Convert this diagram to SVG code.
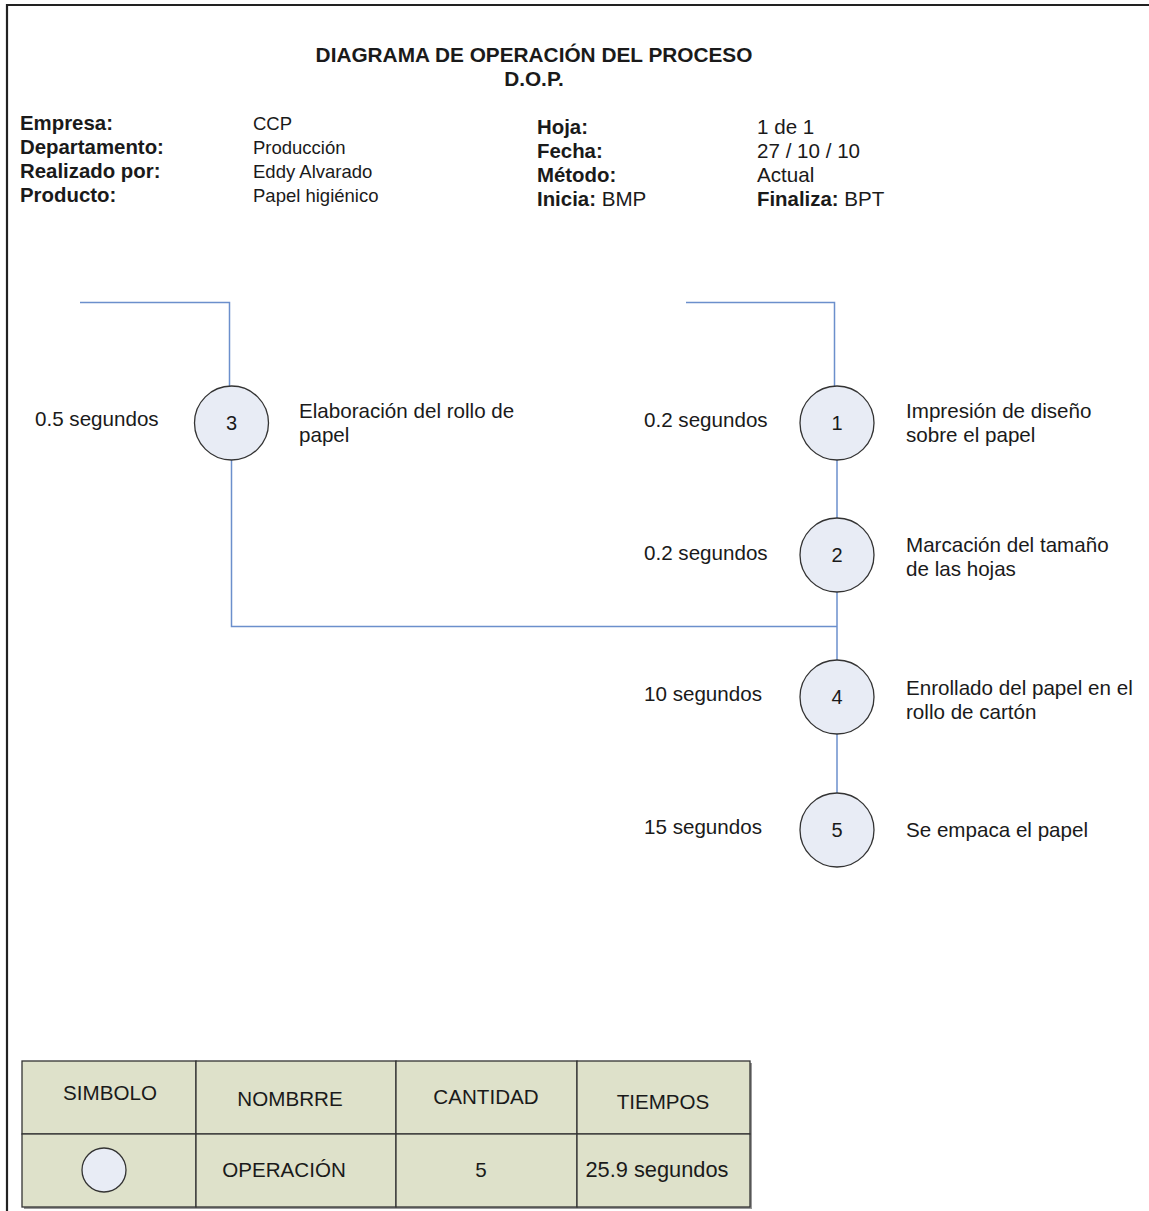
<svg xmlns="http://www.w3.org/2000/svg" width="1149" height="1211" viewBox="0 0 1149 1211">
<style>
text{font-family:"Liberation Sans",Arial,sans-serif;fill:#1a1a1a;font-size:20.6px}
.b{font-weight:bold;font-size:20.4px}
.t{font-weight:bold;font-size:20.8px}
.c{text-anchor:middle}
.v{font-size:18.5px}
.num{font-size:20px;text-anchor:middle}
.node circle{fill:#e8ecf5;stroke:#333;stroke-width:1.3}
.conn{fill:none;stroke:#6b8fcc;stroke-width:1.5}
.cell{fill:#dee1ca;stroke:#333;stroke-width:1.3}
</style>
<rect width="1149" height="1211" fill="#fff"/>
<g id="frame" fill="none" stroke="#222" stroke-width="2.2">
<path d="M7 1211 V5 H1149"/>
</g>
<g id="title">
<text class="t c" x="534" y="62">DIAGRAMA DE OPERACIÓN DEL PROCESO</text>
<text class="t c" x="534" y="86">D.O.P.</text>
</g>
<g id="header">
<text class="b" x="20" y="130">Empresa:</text>
<text class="b" x="20" y="154">Departamento:</text>
<text class="b" x="20" y="178">Realizado por:</text>
<text class="b" x="20" y="202">Producto:</text>
<text class="v" x="253" y="130">CCP</text>
<text class="v" x="253" y="154">Producción</text>
<text class="v" x="253" y="178">Eddy Alvarado</text>
<text class="v" x="253" y="202">Papel higiénico</text>
<text class="b" x="537" y="134">Hoja:</text>
<text class="b" x="537" y="158">Fecha:</text>
<text class="b" x="537" y="182">Método:</text>
<text x="537" y="206"><tspan class="b">Inicia:</tspan> BMP</text>
<text x="757" y="134">1 de 1</text>
<text x="757" y="158">27 / 10 / 10</text>
<text x="757" y="182">Actual</text>
<text x="757" y="206"><tspan class="b">Finaliza:</tspan> BPT</text>
</g>
<g id="connectors">
<path class="conn" d="M80 302.5 H229.5 V387"/>
<path class="conn" d="M231.5 460 V626.5 H837"/>
<path class="conn" d="M686 302.5 H834.5 V387"/>
<path class="conn" d="M837 460 V518"/>
<path class="conn" d="M837 592 V660"/>
<path class="conn" d="M837 734 V793"/>
</g>
<g id="op3" class="node">
<circle cx="231.5" cy="423" r="37"/>
<text class="num" x="231.5" y="430">3</text>
<text x="35" y="426">0.5 segundos</text>
<text x="299" y="418">Elaboración del rollo de</text>
<text x="299" y="442">papel</text>
</g>
<g id="op1" class="node">
<circle cx="837" cy="423" r="37"/>
<text class="num" x="837" y="430">1</text>
<text x="644" y="427">0.2 segundos</text>
<text x="906" y="418">Impresión de diseño</text>
<text x="906" y="442">sobre el papel</text>
</g>
<g id="op2" class="node">
<circle cx="837" cy="555" r="37"/>
<text class="num" x="837" y="562">2</text>
<text x="644" y="560">0.2 segundos</text>
<text x="906" y="552">Marcación del tamaño</text>
<text x="906" y="576">de las hojas</text>
</g>
<g id="op4" class="node">
<circle cx="837" cy="697" r="37"/>
<text class="num" x="837" y="704">4</text>
<text x="644" y="701">10 segundos</text>
<text x="906" y="695">Enrollado del papel en el</text>
<text x="906" y="719">rollo de cartón</text>
</g>
<g id="op5" class="node">
<circle cx="837" cy="830" r="37"/>
<text class="num" x="837" y="837">5</text>
<text x="644" y="834">15 segundos</text>
<text x="906" y="837">Se empaca el papel</text>
</g>
<g id="summary-table">
<rect x="24" y="1063" width="728" height="146" fill="#999"/>
<rect class="cell" x="22" y="1061" width="174" height="73"/>
<rect class="cell" x="196" y="1061" width="200" height="73"/>
<rect class="cell" x="396" y="1061" width="181" height="73"/>
<rect class="cell" x="577" y="1061" width="173" height="73"/>
<rect class="cell" x="22" y="1134" width="174" height="73"/>
<rect class="cell" x="196" y="1134" width="200" height="73"/>
<rect class="cell" x="396" y="1134" width="181" height="73"/>
<rect class="cell" x="577" y="1134" width="173" height="73"/>
<text class="c" x="110" y="1100">SIMBOLO</text>
<text class="c" x="290" y="1106">NOMBRRE</text>
<text class="c" x="486" y="1104">CANTIDAD</text>
<text class="c" x="663" y="1109">TIEMPOS</text>
<circle cx="104" cy="1170" r="22" fill="#e8ecf5" stroke="#333" stroke-width="1.3"/>
<text class="c" x="284" y="1177">OPERACIÓN</text>
<text class="c" x="481" y="1177">5</text>
<text class="c" x="657" y="1177" style="font-size:21.8px">25.9 segundos</text>
</g>
</svg>
